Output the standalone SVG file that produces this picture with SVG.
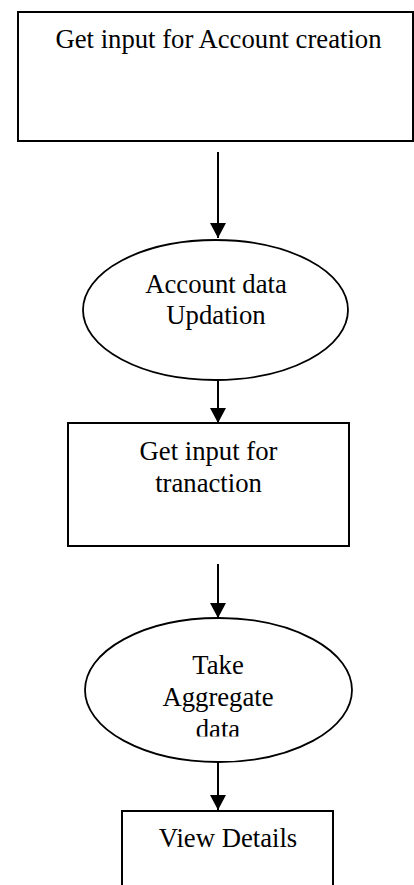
<svg xmlns="http://www.w3.org/2000/svg" width="414" height="885" viewBox="0 0 414 885">
<style>
.shape{fill:#fff;stroke:#000;stroke-width:2}
.ell{fill:#fff;stroke:#000;stroke-width:1.8}
.lbl{font-family:"Liberation Serif","Times New Roman",serif;font-size:26.7px;fill:#000;text-anchor:middle}
.conn{stroke:#000;stroke-width:2;fill:none}
</style>
<defs>
<marker id="arr" markerUnits="userSpaceOnUse" markerWidth="16" markerHeight="16" refX="15" refY="8" orient="auto">
<path d="M0,0 L15,8 L0,16 Z" fill="#000"/>
</marker>
<clipPath id="clipE2"><rect x="0" y="600" width="414" height="136.5"/></clipPath>
</defs>
<rect width="414" height="885" fill="#fff"/>
<g id="n1">
<rect class="shape" x="18" y="12" width="395" height="129"/>
<text class="lbl" x="218.5" y="48">Get input for Account creation</text>
</g>
<g id="n2">
<ellipse class="ell" cx="215.5" cy="310" rx="132.5" ry="70"/>
<text class="lbl" x="216" y="293">Account data</text>
<text class="lbl" x="216" y="324">Updation</text>
</g>
<g id="n3">
<rect class="shape" x="68" y="423" width="281" height="123"/>
<text class="lbl" x="208.5" y="460">Get input for</text>
<text class="lbl" x="208.5" y="492">tranaction</text>
</g>
<g id="n4">
<ellipse class="ell" cx="218.5" cy="690" rx="133.5" ry="72"/>
<text class="lbl" x="218" y="674">Take</text>
<text class="lbl" x="218" y="706">Aggregate</text>
<text class="lbl" x="218" y="738" clip-path="url(#clipE2)">data</text>
</g>
<g id="n5">
<rect class="shape" x="122" y="811" width="211" height="100"/>
<text class="lbl" x="228" y="847">View Details</text>
</g>
<g id="connectors">
<line class="conn" x1="218" y1="152" x2="218" y2="238" marker-end="url(#arr)"/>
<line class="conn" x1="218" y1="380" x2="218" y2="423" marker-end="url(#arr)"/>
<line class="conn" x1="218" y1="564" x2="218" y2="618" marker-end="url(#arr)"/>
<line class="conn" x1="218" y1="762" x2="218" y2="810" marker-end="url(#arr)"/>
</g>
</svg>
